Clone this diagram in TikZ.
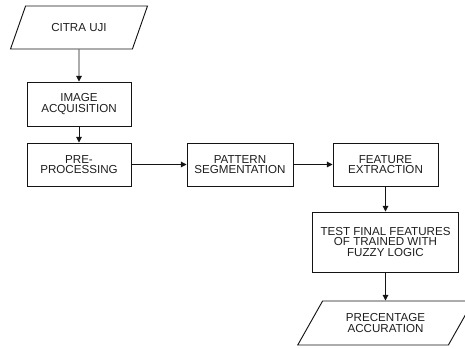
\documentclass[tikz,border=0pt]{standalone}
\usepackage{fontspec}
\setmainfont{Liberation Sans}
\definecolor{FlowLine}{HTML}{141414}
\definecolor{FlowText}{HTML}{1E1E1E}
\usetikzlibrary{positioning,shapes.geometric,arrows.meta}
\newcommand{\flowfont}{\fontsize{8.7}{7.9}\selectfont}
\tikzset{
  procbox/.style={draw=FlowLine, line width=0.7pt, text=FlowText, align=center,
    inner sep=1pt, font=\flowfont},
  iobox/.style={procbox, trapezium, trapezium left angle=53, trapezium right angle=127,
    trapezium stretches=true},
  flowarrow/.style={draw=FlowLine, line width=0.7pt, -{Triangle[length=4.2pt,width=4.2pt]}}
}
\begin{document}
\begin{tikzpicture}[x=0.75pt,y=-0.75pt]
    \useasboundingbox (0,0) rectangle (465,349);
    \node[iobox, minimum width=102.75pt, minimum height=32.25pt] (citra) at (79,27.5) {CITRA UJI};
    \node[procbox, minimum width=78pt, minimum height=33pt] (acq) at (79,104) {IMAGE\\ACQUISITION};
    \node[procbox, minimum width=78pt, minimum height=32.25pt] (pre) at (79,164.5) {PRE-\\PROCESSING};
    \node[procbox, minimum width=79.5pt, minimum height=32.25pt] (pattern) at (240,164.5) {PATTERN\\SEGMENTATION};
    \node[procbox, minimum width=78.75pt, minimum height=32.25pt] (feature) at (385.5,164.5) {FEATURE\\EXTRACTION};
    \node[procbox, minimum width=110pt, minimum height=45pt] (test) at (385.5,242) {TEST FINAL FEATURES\\OF TRAINED WITH\\FUZZY LOGIC};
    \node[iobox, minimum width=132.75pt, minimum height=33pt] (result) at (385.5,323) {PRECENTAGE\\ACCURATION};
    \draw[flowarrow] (citra) -- (acq);
    \draw[flowarrow] (acq) -- (pre);
    \draw[flowarrow] (pre) -- (pattern);
    \draw[flowarrow] (pattern) -- (feature);
    \draw[flowarrow] (feature) -- (test);
    \draw[flowarrow] (test) -- (result);
\end{tikzpicture}
\end{document}
